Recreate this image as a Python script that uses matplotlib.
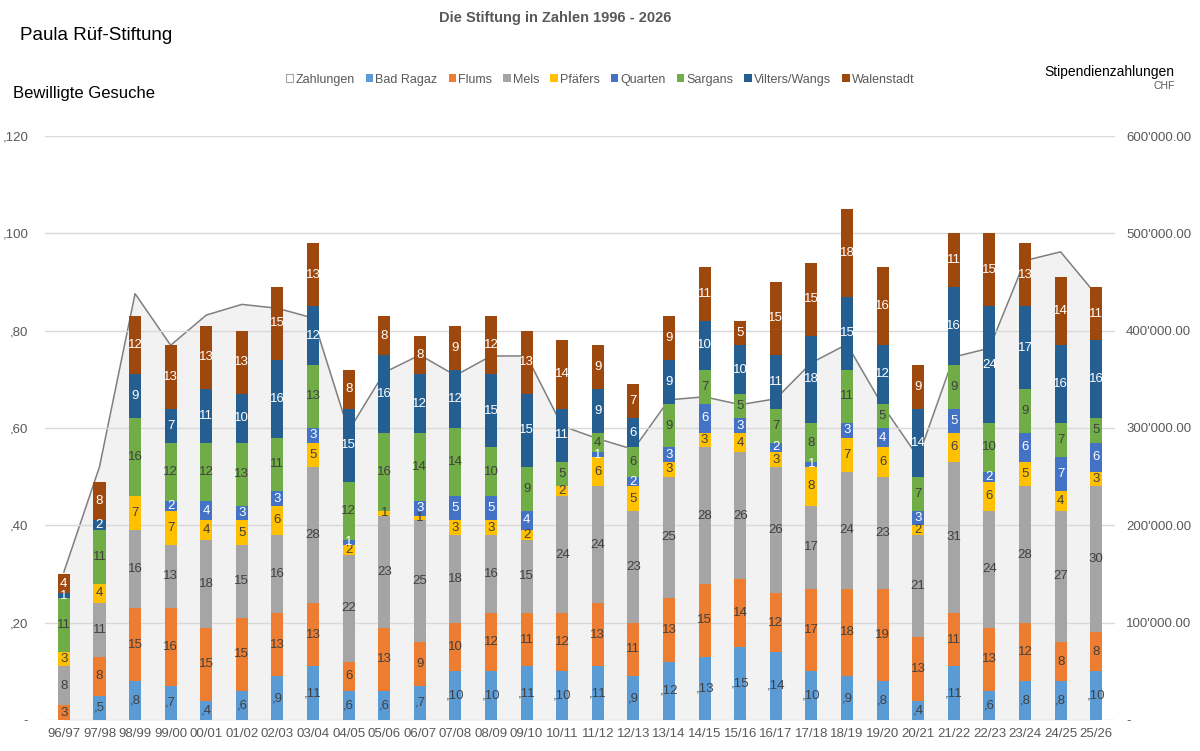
import matplotlib.pyplot as plt
import numpy as np
from matplotlib.patches import Patch

plt.rcParams['font.family'] = ['Liberation Sans', 'DejaVu Sans']

jahre = ['96/97', '97/98', '98/99', '99/00', '00/01', '01/02', '02/03', '03/04', '04/05', '05/06',
         '06/07', '07/08', '08/09', '09/10', '10/11', '11/12', '12/13', '13/14', '14/15', '15/16',
         '16/17', '17/18', '18/19', '19/20', '20/21', '21/22', '22/23', '23/24', '24/25', '25/26']

bad_ragaz = [0, 5, 8, 7, 4, 6, 9, 11, 6, 6, 7, 10, 10, 11, 10, 11, 9, 12, 13, 15, 14, 10, 9, 8, 4, 11, 6, 8, 8, 10]
flums = [3, 8, 15, 16, 15, 15, 13, 13, 6, 13, 9, 10, 12, 11, 12, 13, 11, 13, 15, 14, 12, 17, 18, 19, 13, 11, 13, 12, 8, 8]
mels = [8, 11, 16, 13, 18, 15, 16, 28, 22, 23, 25, 18, 16, 15, 24, 24, 23, 25, 28, 26, 26, 17, 24, 23, 21, 31, 24, 28, 27, 30]
pfaefers = [3, 4, 7, 7, 4, 5, 6, 5, 2, 1, 1, 3, 3, 2, 2, 6, 5, 3, 3, 4, 3, 8, 7, 6, 2, 6, 6, 5, 4, 3]
quarten = [0, 0, 0, 2, 4, 3, 3, 3, 1, 0, 3, 5, 5, 4, 0, 1, 2, 3, 6, 3, 2, 1, 3, 4, 3, 5, 2, 6, 7, 6]
sargans = [11, 11, 16, 12, 12, 13, 11, 13, 12, 16, 14, 14, 10, 9, 5, 4, 6, 9, 7, 5, 7, 8, 11, 5, 7, 9, 10, 9, 7, 5]
vilters = [1, 2, 9, 7, 11, 10, 16, 12, 15, 16, 12, 12, 15, 15, 11, 9, 6, 9, 10, 10, 11, 18, 15, 12, 14, 16, 24, 17, 16, 16]
walenstadt = [4, 8, 12, 13, 13, 13, 15, 13, 8, 8, 8, 9, 12, 13, 14, 9, 7, 9, 11, 5, 15, 15, 18, 16, 9, 11, 15, 13, 14, 11]

# Stipendienzahlungen in CHF (geschaetzt)
zahlungen = [152000, 260000, 438000, 385000, 416000, 427000, 423000, 413000, 297000, 357000,
             375000, 354000, 374000, 374000, 302000, 289000, 278000, 329000, 332000, 324000,
             330000, 367000, 386000, 323000, 270000, 373000, 382000, 472000, 481000, 437000]

gemeinden = ['Bad Ragaz', 'Flums', 'Mels', 'Pfäfers', 'Quarten', 'Sargans', 'Vilters/Wangs', 'Walenstadt']
reihen = [bad_ragaz, flums, mels, pfaefers, quarten, sargans, vilters, walenstadt]
farben = ['#5B9BD5', '#ED7D31', '#A5A5A5', '#FFC000', '#4472C4', '#70AD47', '#255E91', '#9E480E']
text_farben = ['#404040', '#404040', '#404040', '#404040', 'white', '#404040', 'white', 'white']

grau = '#595959'
x = np.arange(len(jahre))

fig = plt.figure(figsize=(12, 7.51), dpi=100)
ax = fig.add_axes([0.0375, 0.0413, 0.8917, 0.7776])
ax2 = ax.twinx()
ax.set_zorder(ax2.get_zorder() + 1)
ax.patch.set_visible(False)

# Zahlungen als Flaeche hinter den Balken
ax2.fill_between(x, zahlungen, color='#F2F2F2', zorder=1)
ax2.plot(x, zahlungen, color='#7F7F7F', lw=1.1, zorder=2)
ax2.set_ylim(0, 600000)
ax2.set_yticks(np.arange(0, 600001, 100000))
ax2.set_yticklabels(['-'] + ["{:,}.00".format(v).replace(',', "'") for v in range(100000, 600001, 100000)])

for yy in range(0, 121, 20):
    ax.axhline(yy, color='#D9D9D9', lw=1, zorder=0)

unten = np.zeros(len(jahre))
for name, werte, farbe, tf in zip(gemeinden, reihen, farben, text_farben):
    werte = np.array(werte)
    ax.bar(x, werte, 0.34, bottom=unten, color=farbe, label=name, zorder=3)
    for xi, b, w in zip(x, unten, werte):
        if w > 0:
            txt = ',' + str(w) if name == 'Bad Ragaz' else str(w)
            ax.text(xi, b + w / 2, txt, ha='center', va='center', fontsize=9.5, color=tf, zorder=4)
    unten += werte

ax.set_xlim(-0.53, len(jahre) - 0.47)
ax.set_ylim(0, 120)
ax.set_xticks(x)
ax.set_xticklabels(jahre)
ax.set_yticks(range(0, 121, 20))
ax.set_yticklabels(['-', ',20', ',40', ',60', ',80', ',100', ',120'])

for a in (ax, ax2):
    for s in a.spines.values():
        s.set_visible(False)
    a.tick_params(length=0, colors=grau, labelsize=9.5)
ax.tick_params(axis='x', pad=6, labelsize=9.5)
ax.tick_params(axis='y', pad=12)
ax2.tick_params(axis='y', pad=8)

# Legende
handles = [Patch(facecolor='white', edgecolor='#A5A5A5', lw=0.8, label='Zahlungen')]
handles += [Patch(facecolor=f, label=n) for n, f in zip(gemeinden, farben)]
leg = fig.legend(handles=handles, loc='center', bbox_to_anchor=(0.5, 0.894), ncol=9, frameon=False,
                 fontsize=9, handlelength=0.6, handleheight=0.6, handletextpad=0.15, columnspacing=0.9)
for t in leg.get_texts():
    t.set_color(grau)

fig.text(0.4625, 0.976, 'Die Stiftung in Zahlen 1996 - 2026', ha='center', va='center',
         fontsize=10.5, fontweight='bold', color=grau)
fig.text(0.017, 0.953, 'Paula Rüf-Stiftung', ha='left', va='center', fontsize=13.5, color='black')
fig.text(0.011, 0.875, 'Bewilligte Gesuche', ha='left', va='center', fontsize=12, color='black')
fig.text(0.979, 0.904, 'Stipendienzahlungen', ha='right', va='center', fontsize=10, color='black')
fig.text(0.979, 0.885, 'CHF', ha='right', va='center', fontsize=7.5, color=grau)

plt.savefig('out.png', dpi=100)
